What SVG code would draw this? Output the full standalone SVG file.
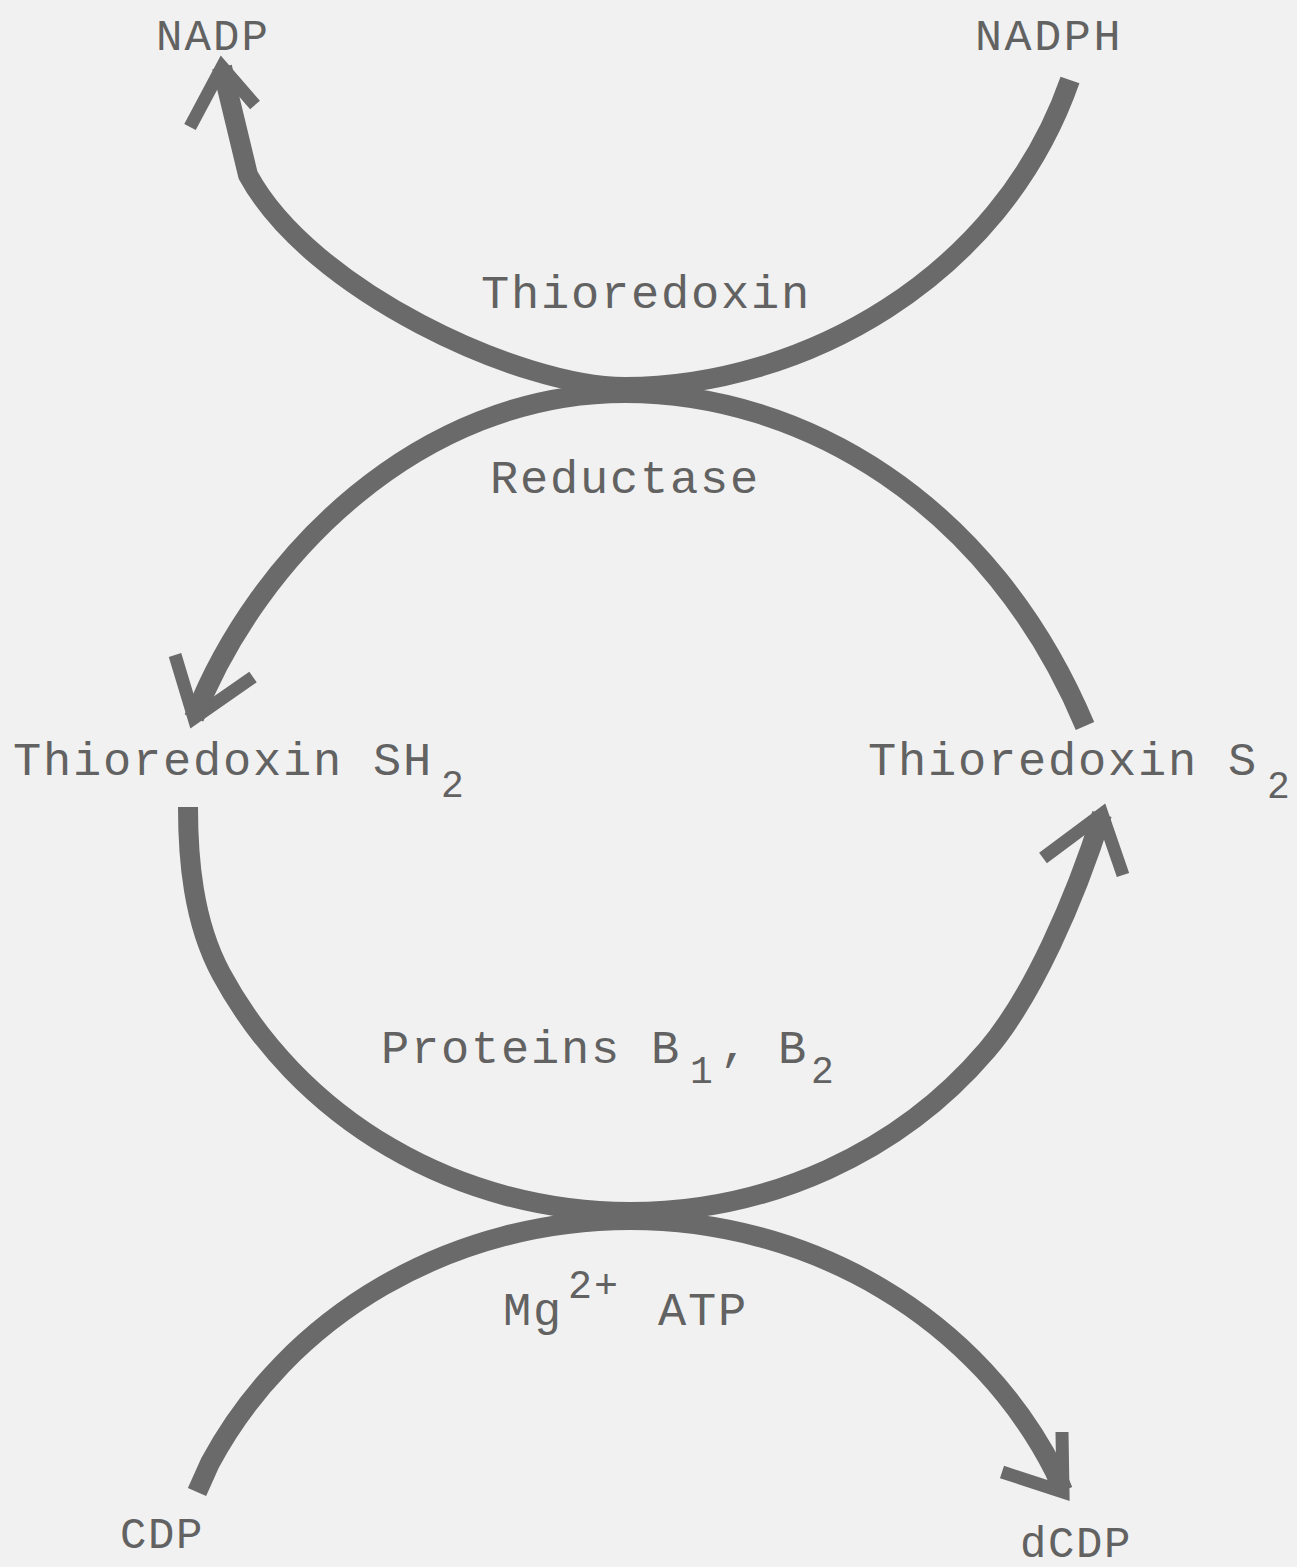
<svg xmlns="http://www.w3.org/2000/svg" width="1297" height="1567" viewBox="0 0 1297 1567">
<style>
.bg{fill:#f1f1f1}
.arc{fill:none;stroke:#6a6a6a;stroke-width:20;stroke-linecap:butt;stroke-linejoin:round}
.head{fill:none;stroke:#6a6a6a;stroke-width:13;stroke-linecap:butt;stroke-linejoin:miter;stroke-miterlimit:6}
.lbl{font-family:"Liberation Mono","Courier New",monospace;fill:#626262;font-size:47px;letter-spacing:1.8px}
.sm{font-family:"Liberation Mono","Courier New",monospace;fill:#626262;font-size:44px;letter-spacing:2.1px}
.sub{font-size:38px;letter-spacing:0}
</style>
<rect class="bg" x="0" y="0" width="1297" height="1567"/>
<g id="connectors">
  <path id="arc-nadph-nadp" class="arc" d="M1070 80 C1000 280 800 387 625 387 C520 387 310 290 248 175 L222 67"/>
  <polyline class="head" points="190,127 222,67 255,105"/>
  <path id="arc-s2-sh2" class="arc" d="M1085 726 C990 500 800 393 625 393 C420 393 257 556 194 718"/>
  <polyline class="head" points="175,655 194,718 253,677"/>
  <path id="arc-sh2-s2" class="arc" d="M188 807 C188 857 192.6 920.7 221 973.5 A460 440 0 0 0 630 1212 A460 440 0 0 0 987 1050 C1032.3 996.7 1075 899.9 1102 814"/>
  <polyline class="head" points="1043,858 1102,814 1123,875"/>
  <path id="arc-cdp-dcdp" class="arc" d="M197 1492 L210 1463 A470 440 0 0 1 630 1220 A470 440 0 0 1 1055 1472 L1063 1491"/>
  <polyline class="head" points="1062,1432 1063,1492 1002,1472"/>
</g>
<g id="node-nadp"><text class="sm" x="156" y="50">NADP</text></g>
<g id="node-nadph"><text class="sm" x="975" y="50" style="font-size:45px;letter-spacing:2.6px">NADPH</text></g>
<g id="label-thioredoxin"><text class="lbl" x="481" y="308">Thioredoxin</text></g>
<g id="label-reductase"><text class="lbl" x="490" y="493">Reductase</text></g>
<g id="node-thioredoxin-sh2"><text class="lbl" x="13" y="775">Thioredoxin SH<tspan class="sub" x="441" y="797">2</tspan></text></g>
<g id="node-thioredoxin-s2"><text class="lbl" x="868" y="775">Thioredoxin S<tspan class="sub" x="1267" y="798">2</tspan></text></g>
<g id="label-proteins"><text class="lbl" x="381" y="1063">Proteins B<tspan class="sub" x="690" y="1083">1</tspan><tspan x="720" y="1060">,</tspan><tspan x="778" y="1063">B</tspan><tspan class="sub" x="811" y="1083">2</tspan></text></g>
<g id="label-mg-atp"><text class="lbl" x="503" y="1325">Mg<tspan class="sub" x="568" y="1298" style="font-size:40px;letter-spacing:2px">2+</tspan><tspan x="658" y="1325">ATP</tspan></text></g>
<g id="node-cdp"><text class="sm" x="120" y="1548" style="letter-spacing:1.6px">CDP</text></g>
<g id="node-dcdp"><text class="sm" x="1020" y="1557" style="letter-spacing:1.6px">dCDP</text></g>
</svg>
